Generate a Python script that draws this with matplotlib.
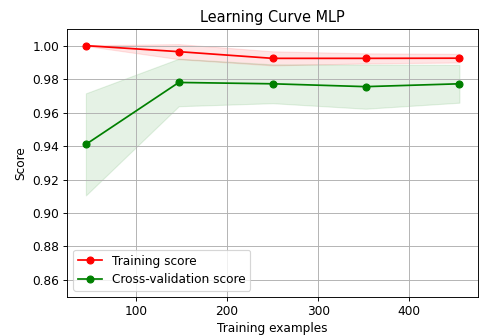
import numpy as np
import matplotlib
matplotlib.use("Agg")
import matplotlib.pyplot as plt

train_sizes = [45, 147, 250, 352, 455]
train_mean = [1.000, 0.9964, 0.9924, 0.9924, 0.9925]
train_std = [0.0002, 0.0045, 0.0042, 0.0030, 0.0026]
cv_mean = [0.9410, 0.9780, 0.9772, 0.9755, 0.9772]
cv_std = [0.0305, 0.0142, 0.0116, 0.0132, 0.0113]

DPI = 83
fs = 10.5
fig = plt.figure(figsize=(480 / DPI, 336 / DPI), dpi=DPI)
ax = fig.add_axes([0.140, 0.117, 0.856, 0.797])

tm = np.array(train_mean); ts = np.array(train_std)
cm = np.array(cv_mean); cs = np.array(cv_std)
ax.grid(True, color="#b0b0b0", linewidth=0.8)
ax.fill_between(train_sizes, tm - ts, tm + ts, alpha=0.1, color="r")
ax.fill_between(train_sizes, cm - cs, cm + cs, alpha=0.1, color="g")
ax.plot(train_sizes, tm, "o-", color="r", label="Training score")
ax.plot(train_sizes, cm, "o-", color="g", label="Cross-validation score")
ax.set_ylim(0.85, 1.01)
ax.set_yticks([0.86, 0.88, 0.90, 0.92, 0.94, 0.96, 0.98, 1.00])
ax.set_xticks([100, 200, 300, 400])
ax.tick_params(labelsize=fs)
ax.set_title("Learning Curve MLP", fontsize=fs * 1.2)
ax.set_xlabel("Training examples", fontsize=fs)
ax.set_ylabel("Score", fontsize=fs)
ax.legend(loc="best", fontsize=fs, labelspacing=0.42)
fig.savefig("out.png", dpi=DPI)
